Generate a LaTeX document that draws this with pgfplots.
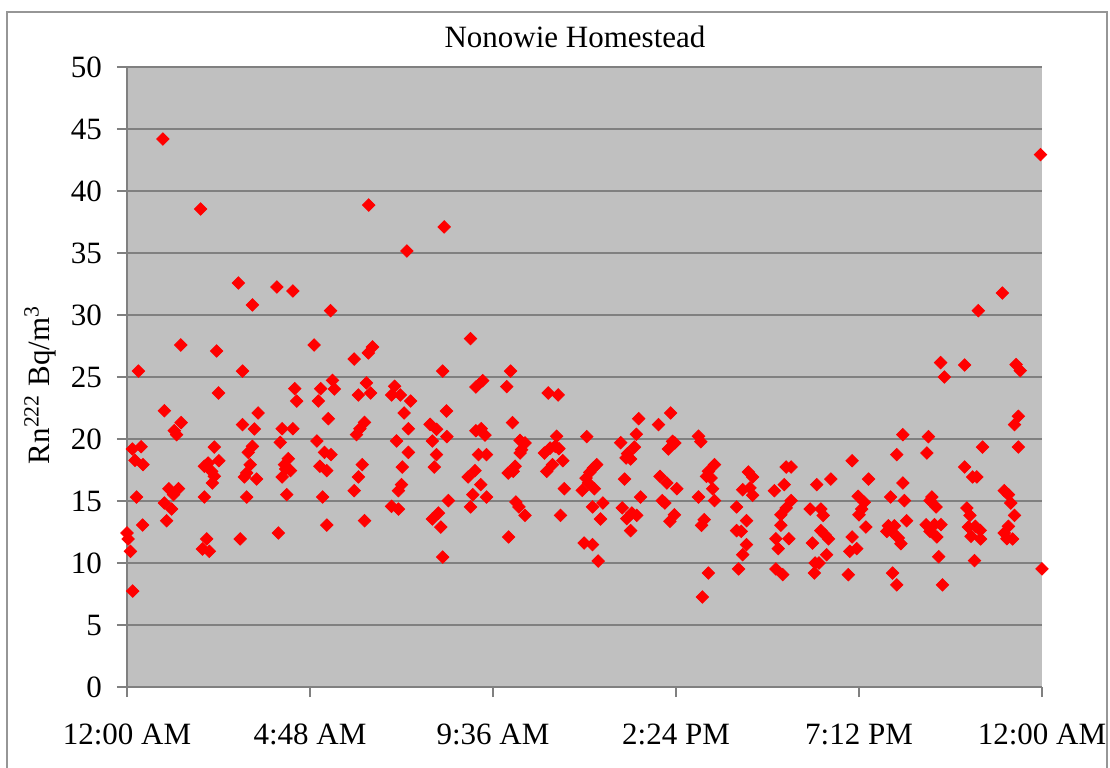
\documentclass[border=0pt]{standalone}
\usepackage{fontspec}
\setmainfont{Liberation Serif}
\usepackage{pgfplots}
\pgfplotsset{compat=1.18}
\definecolor{plotbg}{RGB}{192,192,192}
\definecolor{gridc}{RGB}{128,128,128}
\definecolor{framec}{RGB}{150,150,150}
\newcommand{\chartfont}{\fontsize{15.5bp}{18bp}\selectfont}
\begin{document}
\begin{tikzpicture}
\useasboundingbox (-63.5bp,-40.5bp) rectangle (491.5bp,343.5bp);
\draw[framec, line width=0.9bp] (-60bp,-45bp) -- (-60bp,337.5bp) -- (490bp,337.5bp) -- (490bp,-45bp);
\begin{axis}[
  at={(0,0)}, anchor=south west,
  scale only axis, width=457.5bp, height=310bp,
  xmin=0, xmax=24, ymin=0, ymax=50,
  xtick={0,4.8,9.6,14.4,19.2,24},
  xticklabels={12:00 AM,4:48 AM,9:36 AM,2:24 PM,7:12 PM,12:00 AM},
  ytick={0,5,...,50},
  axis lines*=left, axis line style={gridc, line width=0.6bp, -},
  tick align=outside, major tick length=5bp,
  tick style={gridc, line width=0.6bp},
  ymajorgrids, grid style={gridc, line width=0.6bp},
  axis background/.style={fill=plotbg},
  tick label style={font=\chartfont, text=black},
  xticklabel style={yshift=-10bp},
  yticklabel style={xshift=-4bp},
  /pgf/number format/assume math mode=true,
  clip=false,
]
\addplot[red, only marks, mark=square*, mark size=2.2bp, mark options={rotate=45, fill=red, draw=none}] table {
x y
0.94 44.19
1.93 38.55
2.92 32.58
3.29 30.81
1.41 27.58
2.35 27.10
0.30 25.48
3.03 25.48
2.40 23.71
0.98 22.28
3.44 22.10
1.42 21.32
1.24 20.67
1.30 20.35
3.03 21.16
3.34 20.81
0.14 19.19
0.37 19.38
2.29 19.35
3.29 19.41
3.18 18.92
0.21 18.28
0.42 17.93
2.41 18.25
2.03 17.80
2.13 18.06
2.22 17.39
2.29 16.99
2.24 16.45
3.23 17.93
3.14 17.26
3.08 16.94
3.40 16.77
0.25 15.32
1.10 15.99
1.35 15.99
1.22 15.51
2.03 15.32
3.14 15.32
0.98 14.84
1.17 14.35
1.04 13.41
0.41 13.06
0.00 12.42
0.03 11.94
0.09 10.94
2.09 11.94
1.98 11.13
2.16 10.94
2.97 11.94
0.15 7.74
6.34 38.87
7.34 35.16
3.93 32.26
4.35 31.94
5.34 30.35
4.91 27.58
5.96 26.45
6.33 26.94
6.44 27.42
5.39 24.73
5.44 24.03
6.28 24.52
4.40 24.06
5.08 24.06
4.45 23.06
5.02 23.06
6.07 23.55
6.39 23.71
7.02 24.25
6.94 23.55
7.17 23.55
7.44 23.06
7.27 22.10
5.28 21.64
7.38 20.83
4.07 20.83
4.35 20.83
6.23 21.34
6.11 20.83
6.02 20.35
4.02 19.73
4.98 19.84
7.07 19.84
7.38 18.92
4.23 18.41
5.18 18.92
5.35 18.74
4.13 17.93
4.16 17.58
4.29 17.45
4.07 16.94
5.06 17.80
5.24 17.45
6.17 17.93
6.07 16.94
7.22 17.74
7.20 16.32
7.12 15.83
4.19 15.51
5.13 15.32
5.96 15.83
6.94 14.57
7.12 14.35
3.97 12.42
5.24 13.06
6.23 13.41
8.32 37.10
9.01 28.09
8.28 25.48
10.06 25.48
9.33 24.70
9.15 24.19
9.96 24.22
11.05 23.71
11.31 23.55
8.38 22.26
10.11 21.32
7.95 21.18
8.12 20.78
8.01 19.84
8.39 20.19
9.15 20.67
9.29 20.83
9.39 20.32
8.12 18.74
8.06 17.74
9.22 18.74
9.43 18.74
10.31 19.89
10.44 19.68
10.35 19.14
10.31 18.87
11.27 20.22
10.95 18.87
11.10 19.27
11.23 19.41
11.33 19.22
11.43 18.25
9.13 17.45
8.95 16.94
9.28 16.32
10.18 17.80
10.00 17.26
10.13 17.39
11.16 17.93
11.01 17.39
8.43 15.03
9.07 15.51
9.43 15.32
9.01 14.52
10.20 14.92
10.28 14.52
10.44 13.84
11.47 15.99
11.37 13.84
8.17 14.03
8.01 13.55
8.23 12.90
8.28 10.48
10.01 12.10
14.26 22.10
13.42 21.64
13.94 21.16
12.06 20.19
13.36 20.38
12.95 19.70
13.31 19.35
14.99 20.22
15.05 19.78
14.31 19.81
14.37 19.68
14.20 19.19
13.13 18.82
13.09 18.47
13.21 18.39
12.32 17.93
12.23 17.66
12.14 17.31
12.04 16.85
12.10 16.45
12.26 15.99
11.94 15.86
13.05 16.77
13.98 16.99
14.16 16.45
14.42 15.99
15.41 17.93
15.25 17.39
15.20 16.99
15.32 16.85
15.36 15.99
14.99 15.32
15.41 15.03
13.47 15.32
12.48 14.84
12.21 14.52
12.42 13.55
12.99 14.44
13.11 13.58
13.24 14.03
13.37 13.84
13.21 12.61
14.04 15.03
14.11 14.84
14.36 13.89
14.24 13.36
15.14 13.49
15.07 13.04
11.99 11.61
12.21 11.48
12.36 10.16
15.25 9.19
15.09 7.26
19.02 18.25
17.29 17.74
17.42 17.74
16.30 17.34
16.41 16.94
16.15 15.91
16.34 16.05
16.41 15.46
16.98 15.83
17.24 16.32
18.09 16.32
18.46 16.77
19.45 16.77
19.18 15.38
19.34 14.89
19.27 14.35
19.20 13.89
19.38 12.90
15.99 14.52
17.42 15.03
17.29 14.44
17.15 13.89
17.15 13.04
17.92 14.35
18.20 14.35
18.26 13.84
16.25 13.41
15.99 12.61
16.11 12.55
17.02 11.96
17.36 11.96
17.08 11.16
18.20 12.61
18.31 12.26
18.40 11.94
17.98 11.61
18.35 10.67
16.25 11.48
16.15 10.67
16.04 9.52
17.02 9.52
17.20 9.06
18.05 10.00
18.15 10.00
18.03 9.19
19.02 12.10
18.96 10.94
19.14 11.16
18.92 9.06
23.96 42.93
22.96 31.77
22.33 30.35
21.34 26.16
21.44 25.00
21.97 25.97
23.32 26.00
23.43 25.51
23.38 21.83
23.28 21.16
23.38 19.35
22.44 19.35
20.35 20.35
21.02 20.19
20.19 18.74
20.98 18.87
21.97 17.74
22.18 16.94
22.29 16.94
20.35 16.45
20.03 15.32
20.39 15.03
20.45 13.41
21.11 15.32
21.06 15.03
21.22 14.52
20.96 13.09
21.18 13.09
21.35 13.09
21.06 12.55
21.24 12.10
19.93 12.55
19.97 13.00
20.13 13.00
20.06 12.55
20.23 12.02
20.30 11.56
20.08 9.19
20.19 8.23
21.29 10.51
21.39 8.23
22.03 14.44
22.11 13.84
22.07 12.90
22.25 12.96
22.38 12.63
22.14 12.15
22.39 11.94
22.23 10.19
23.01 15.83
23.12 15.51
23.18 14.84
23.28 13.84
23.12 12.96
23.01 12.42
23.08 11.96
23.23 11.94
24.00 9.52
};
\end{axis}
\node[font=\chartfont] at (224bp,325bp) {Nonowie Homestead};
\node[font=\chartfont, rotate=90] at (-43.5bp,151bp) {Rn\textsuperscript{222} Bq/m\textsuperscript{3}};
\end{tikzpicture}
\end{document}
